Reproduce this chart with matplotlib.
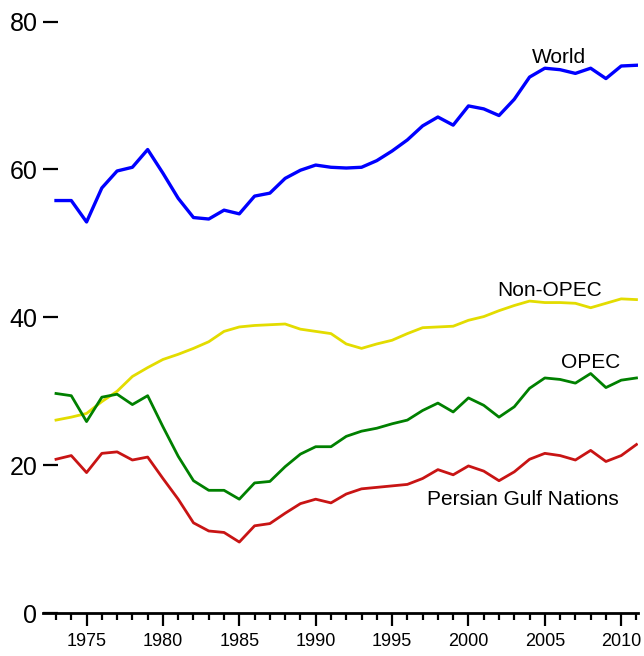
import matplotlib
matplotlib.use("Agg")
import matplotlib.pyplot as plt
from matplotlib.ticker import MultipleLocator

plt.rcParams['font.family'] = ['Liberation Sans', 'DejaVu Sans']

# crude oil production, million barrels per day
years = list(range(1973, 2012))

world = [55.8, 55.8, 52.9, 57.5, 59.8, 60.3, 62.7, 59.5, 56.1, 53.5,
         53.3, 54.5, 54.0, 56.4, 56.8, 58.8, 59.9, 60.6, 60.3, 60.2,
         60.3, 61.2, 62.5, 64.0, 65.9, 67.1, 66.0, 68.6, 68.2, 67.3,
         69.5, 72.5, 73.7, 73.5, 73.0, 73.7, 72.3, 74.0, 74.1]

non_opec = [26.1, 26.5, 27.0, 28.6, 30.0, 32.0, 33.2, 34.3, 35.0, 35.8,
            36.7, 38.1, 38.7, 38.9, 39.0, 39.1, 38.4, 38.1, 37.8, 36.4,
            35.8, 36.4, 36.9, 37.8, 38.6, 38.7, 38.8, 39.6, 40.1, 40.9,
            41.6, 42.2, 42.0, 42.0, 41.9, 41.3, 41.9, 42.5, 42.4]

opec = [29.7, 29.4, 25.9, 29.2, 29.6, 28.2, 29.4, 25.2, 21.2, 17.9,
        16.6, 16.6, 15.4, 17.6, 17.8, 19.8, 21.5, 22.5, 22.5, 23.9,
        24.6, 25.0, 25.6, 26.1, 27.4, 28.4, 27.2, 29.1, 28.1, 26.5,
        27.9, 30.4, 31.8, 31.6, 31.1, 32.4, 30.5, 31.5, 31.8]

gulf = [20.8, 21.3, 19.0, 21.6, 21.8, 20.7, 21.1, 18.2, 15.4, 12.2,
        11.1, 10.9, 9.6, 11.8, 12.1, 13.5, 14.8, 15.4, 14.9, 16.1,
        16.8, 17.0, 17.2, 17.4, 18.2, 19.4, 18.7, 19.9, 19.2, 17.9,
        19.1, 20.8, 21.6, 21.3, 20.7, 22.0, 20.5, 21.3, 22.8]

fig = plt.figure(figsize=(6.44, 6.56), dpi=100)
ax = fig.add_axes([0.0668, 0.0655, 0.9239, 0.9015])

ax.plot(years, world, color='#0000ff', lw=2.4)
ax.plot(years, non_opec, color='#e3dc00', lw=2.0)
ax.plot(years, opec, color='#008000', lw=2.0)
ax.plot(years, gulf, color='#c81414', lw=2.0)

# series labels
ax.text(2005.9, 75.2, 'World', fontsize=15, ha='center', va='center')
ax.text(2005.3, 43.6, 'Non-OPEC', fontsize=15, ha='center', va='center')
ax.text(2008.0, 33.9, 'OPEC', fontsize=15, ha='center', va='center')
ax.text(2003.55, 15.3, 'Persian Gulf Nations', fontsize=15, ha='center', va='center')

ax.set_xlim(1972.15, 2011.1)
ax.set_ylim(0, 80)

for side in ['top', 'right', 'left']:
    ax.spines[side].set_visible(False)
ax.spines['bottom'].set_linewidth(2)

ax.set_yticks([0, 20, 40, 60, 80])
ax.tick_params(axis='y', direction='in', length=10.8, width=1.6,
               labelsize=18, pad=4)
ax.xaxis.set_major_locator(MultipleLocator(5))
ax.xaxis.set_minor_locator(MultipleLocator(1))
ax.tick_params(axis='x', which='major', direction='out', length=9.4,
               width=1.6, labelsize=13, pad=5)
ax.tick_params(axis='x', which='minor', direction='out', length=5,
               width=1.6)

fig.savefig('out.png', dpi=100)
